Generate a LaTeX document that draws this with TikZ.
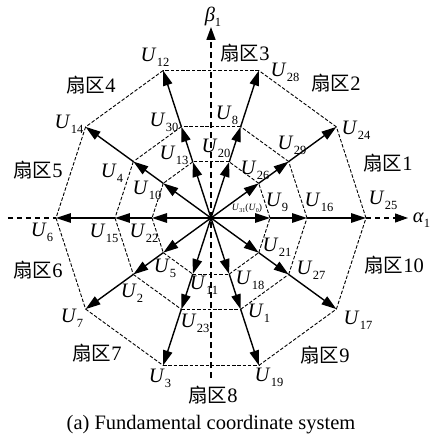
\documentclass[tikz,border=0pt]{standalone}
\usepackage{fontspec}
\setmainfont{Liberation Serif}
\newfontfamily\cjk{Noto Sans CJK SC}
\usetikzlibrary{arrows.meta}
\newcommand\Uv[1]{\textit{U}\kern0.3pt\raisebox{-0.55ex}{\fontsize{12.5}{13}\selectfont #1}}
\newcommand\Us[1]{\textit{U}\raisebox{-0.4ex}{\fontsize{6}{6}\selectfont #1}}
\newcommand\sq[1]{{\cjk\fontsize{19.5}{21}\selectfont 扇区}#1}
\begin{document}
\begin{tikzpicture}[x=1pt,y=1pt,
  vec/.style={line width=1.4pt,-{Triangle[length=15pt,width=9.5pt]}},
  poly/.style={line width=0.9pt,dash pattern=on 3.5pt off 1.8pt},
  axisb/.style={line width=1.7pt,dash pattern=on 6pt off 4pt},
  axisa/.style={line width=1.1pt,dash pattern=on 5pt off 4pt},
  lab/.style={inner sep=0pt,font=\fontsize{20.5}{22}\selectfont},
  sec/.style={inner sep=0pt,font=\fontsize{20.5}{22}\selectfont}]
\useasboundingbox (-211,-223) rectangle (220,218);
\coordinate (O) at (0,0);
\foreach \k in {0,...,9}{
  \coordinate (A\k) at (36*\k:59);
  \coordinate (B\k) at (36*\k:96);
  \coordinate (C\k) at (36*\k:155);
}
% polygons
\foreach \k [evaluate=\k as \n using {int(mod(\k+1,10))}] in {0,...,9}{
  \draw[poly] (A\k) -- (A\n);
  \draw[poly] (B\k) -- (B\n);
  \draw[poly] (C\k) -- (C\n);
}
% axes
\coordinate (Bt) at (0,-160);
\coordinate (Btop) at (0,191);
\coordinate (Al) at (-203,0);
\coordinate (Ar) at (197,0);
\draw[axisb,-{Triangle[length=13pt,width=9pt]}] (Bt) -- (Btop);
\draw[axisa] (Al) -- (C5);
\draw[axisa,-{Triangle[length=13pt,width=9pt]}] (C0) -- (Ar);
% vectors
\foreach \k in {0,...,9}{
  \draw[vec] (O) -- (A\k);
  \draw[vec] (A\k) -- (B\k);
  \draw[vec] (B\k) -- (C\k);
}
% labels
\node[lab] (lb) at (2,201) {\textit{β}\raisebox{-0.5ex}{\fontsize{12.5}{13}\selectfont 1}};
\node[lab] (la) at (210.5,-2) {\textit{α}\raisebox{-0.5ex}{\fontsize{12.5}{13}\selectfont 1}};
\node[lab] (u12) at (-56,161) {\Uv{12}};
\node[lab] (u14) at (-142,94) {\Uv{14}};
\node[lab] (u4) at (-99,45) {\Uv{4}};
\node[lab] (u30) at (-47,96) {\Uv{30}};
\node[lab] (u13) at (-37,63) {\Uv{13}};
\node[lab] (u10) at (-64,28) {\Uv{10}};
\node[lab] (u20) at (5,70) {\Uv{20}};
\node[lab] (u8) at (16,103) {\Uv{8}};
\node[lab] (u28) at (74,146) {\Uv{28}};
\node[lab] (u24) at (145,88) {\Uv{24}};
\node[lab] (u29) at (81,73) {\Uv{29}};
\node[lab] (u26) at (44,48) {\Uv{26}};
\node[lab] (u9) at (66,16) {\Uv{9}};
\node[lab] (u16) at (108,16) {\Uv{16}};
\node[lab] (u25) at (172,18) {\Uv{25}};
\node[inner sep=0pt,font=\fontsize{9.5}{10}\selectfont] (u31) at (36,10) {\Us{31}(\Us{0})};
\node[lab] (u6) at (-169,-14) {\Uv{6}};
\node[lab] (u15) at (-107,-15) {\Uv{15}};
\node[lab] (u22) at (-67,-15) {\Uv{22}};
\node[lab] (u5) at (-46,-50) {\Uv{5}};
\node[lab] (u11) at (-7,-67) {\Uv{11}};
\node[lab] (u2) at (-79,-75) {\Uv{2}};
\node[lab] (u7) at (-139,-100) {\Uv{7}};
\node[lab] (u23) at (-16,-105) {\Uv{23}};
\node[lab] (u3) at (-51,-160) {\Uv{3}};
\node[lab] (u21) at (66,-29) {\Uv{21}};
\node[lab] (u18) at (39,-62) {\Uv{18}};
\node[lab] (u27) at (100,-52) {\Uv{27}};
\node[lab] (u1) at (48,-95) {\Uv{1}};
\node[lab] (u17) at (147,-102) {\Uv{17}};
\node[lab] (u19) at (58,-159) {\Uv{19}};
% sectors
\node[sec] (s1) at (177,55) {\sq{1}};
\node[sec] (s2) at (125,135) {\sq{2}};
\node[sec] (s3) at (34,165) {\sq{3}};
\node[sec] (s4) at (-120,133) {\sq{4}};
\node[sec] (s5) at (-173,48) {\sq{5}};
\node[sec] (s6) at (-173,-52) {\sq{6}};
\node[sec] (s7) at (-114,-135) {\sq{7}};
\node[sec] (s8) at (2,-177) {\sq{8}};
\node[sec] (s9) at (114,-137) {\sq{9}};
\node[sec] (s10) at (183,-47) {\sq{10}};
\node[lab] (cap) at (0,-207) {(a) Fundamental coordinate system};
\end{tikzpicture}
\end{document}
